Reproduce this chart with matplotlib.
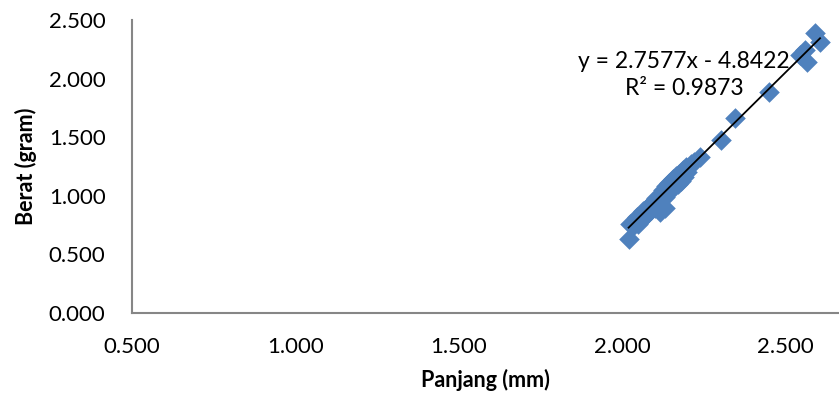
import numpy as np
import matplotlib
matplotlib.use('Agg')
import matplotlib.pyplot as plt
from matplotlib.ticker import FormatStrFormatter

plt.rcParams['font.family'] = ['Lato', 'DejaVu Sans']

# panjang (mm) vs berat (gram)
panjang = [2.020, 2.025, 2.035, 2.040, 2.045, 2.050, 2.055, 2.060, 2.065, 2.070,
           2.075, 2.080, 2.085, 2.090, 2.095, 2.100, 2.105, 2.110, 2.115, 2.116,
           2.120, 2.125, 2.130, 2.130, 2.135, 2.140, 2.145, 2.150, 2.155, 2.160,
           2.165, 2.170, 2.175, 2.180, 2.185, 2.190, 2.195, 2.200, 2.210, 2.220,
           2.240, 2.303, 2.346, 2.450, 2.545, 2.560, 2.566, 2.591, 2.606]
berat = [0.630, 0.760, 0.745, 0.790, 0.820, 0.760, 0.840, 0.800, 0.870, 0.830,
         0.900, 0.850, 0.920, 0.880, 0.950, 0.900, 0.980, 0.930, 1.010, 0.860,
         0.960, 1.050, 0.990, 0.900, 1.080, 1.020, 1.110, 1.060, 1.140, 1.080,
         1.170, 1.100, 1.190, 1.130, 1.220, 1.160, 1.250, 1.200, 1.270, 1.290,
         1.330, 1.480, 1.660, 1.886, 2.200, 2.240, 2.140, 2.390, 2.310]

slope, intercept = 2.7577, -4.8422
r2 = 0.9873

xticks = [0.5, 1.0, 1.5, 2.0, 2.5]
yticks = [0.0, 0.5, 1.0, 1.5, 2.0, 2.5]

fig = plt.figure(figsize=(8.39, 3.97), dpi=100)
ax = fig.add_axes([0.1573, 0.2116, 0.8427, 0.738])

ax.scatter(panjang, berat, marker='D', s=110, color='#4F81BD', linewidths=0, zorder=2)

xs = np.array([min(panjang), max(panjang)])
ax.plot(xs, slope * xs + intercept, color='black', lw=1.3, zorder=3)

ax.text(2.19, 2.03, f'y = {slope}x - {abs(intercept)}\nR² = {r2}',
        fontsize=16.5, ha='center', va='center', linespacing=1.4, zorder=4)

ax.set_xlim(0.5, 2.664)
ax.set_ylim(0.0, 2.5)
ax.set_xticks(xticks)
ax.set_yticks(yticks)
ax.xaxis.set_major_formatter(FormatStrFormatter('%.3f'))
ax.yaxis.set_major_formatter(FormatStrFormatter('%.3f'))
ax.tick_params(length=0, labelsize=16)
ax.tick_params(axis='x', pad=17)
ax.tick_params(axis='y', pad=19)

for side in ['top', 'right']:
    ax.spines[side].set_visible(False)
for side in ['left', 'bottom']:
    ax.spines[side].set_color('#868686')
    ax.spines[side].set_linewidth(1.5)

ax.set_xlabel('Panjang (mm)', fontsize=15.5, fontweight='bold')
ax.set_ylabel('Berat (gram)', fontsize=15.5, fontweight='bold')
ax.xaxis.set_label_coords(0.5, -0.19)
ax.yaxis.set_label_coords(-0.135, 0.5)

fig.savefig('out.png', dpi=100)
